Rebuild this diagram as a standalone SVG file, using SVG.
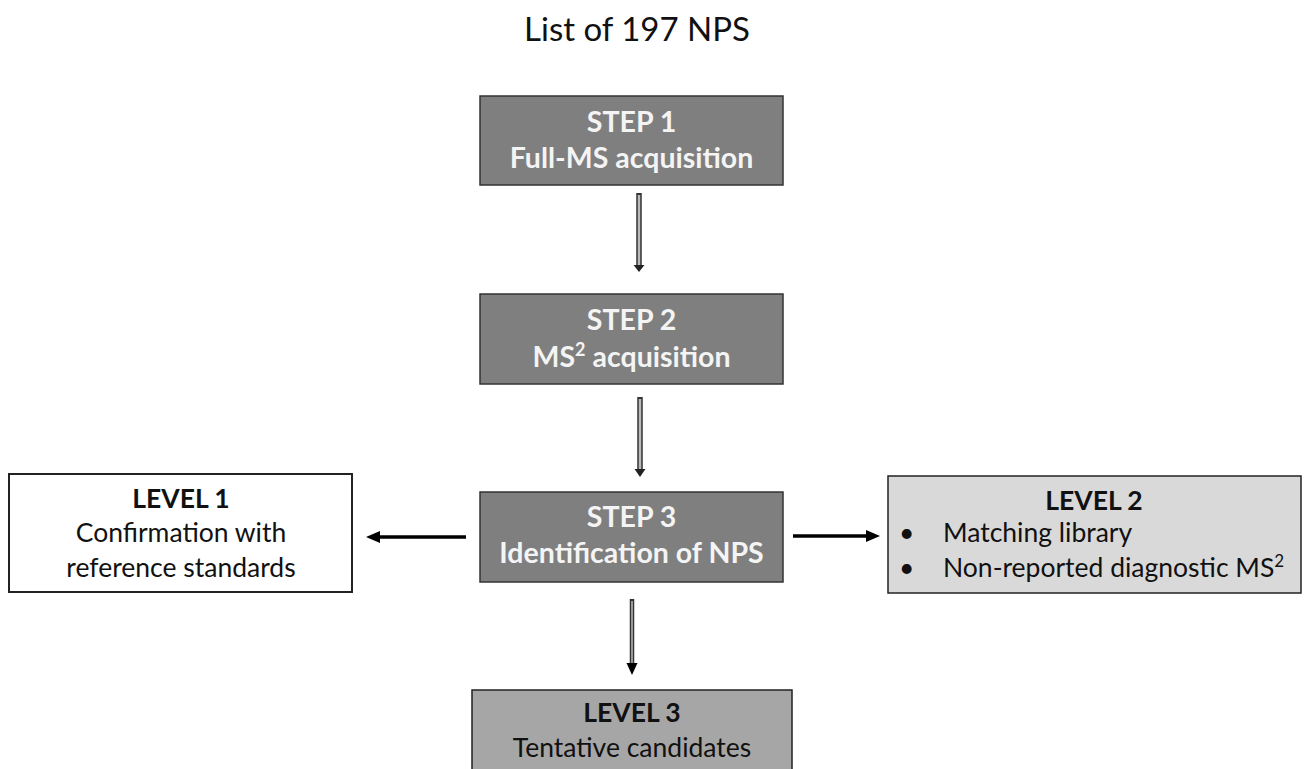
<svg xmlns="http://www.w3.org/2000/svg" width="1312" height="769" viewBox="0 0 1312 769">
<defs>
<style>
text { font-family: Lato, "Open Sans", "Liberation Sans", sans-serif; }
.title { font-size: 33px; fill: #111; text-anchor: middle; }
.step { fill: #7f7f7f; stroke: #333; stroke-width: 1.5; }
.steptxt { font-size: 28.5px; font-weight: bold; fill: #f4f4f4; text-anchor: middle; }
.lvl { stroke: #222; stroke-width: 2; }
.lvlb { font-size: 26.5px; font-weight: bold; fill: #111; text-anchor: middle; }
.lvlt { font-size: 26.5px; fill: #111; }
.mid { text-anchor: middle; }
.shaftO { stroke: #333; stroke-width: 5.5; fill: none; }
.shaftI { stroke: #bbb; stroke-width: 2.5; fill: none; }
.side { stroke: #000; stroke-width: 3.5; fill: none; }
</style>
</defs>

<text class="title" x="637" y="41">List of 197 NPS</text>

<g id="connectors">
  <g id="arrow-step1-step2">
    <line class="shaftO" x1="639" y1="193" x2="639" y2="267"/>
    <line class="shaftI" x1="639" y1="195" x2="639" y2="266"/>
    <polygon points="633.5,265 644.5,265 639,272" fill="#222"/>
  </g>
  <g id="arrow-step2-step3">
    <line class="shaftO" x1="640" y1="397" x2="640" y2="471"/>
    <line class="shaftI" x1="640" y1="399" x2="640" y2="470"/>
    <polygon points="634.5,469 645.5,469 640,477" fill="#222"/>
  </g>
  <g id="arrow-step3-level3">
    <line class="shaftO" x1="632" y1="599" x2="632" y2="665" style="stroke-width:4.5"/>
    <line class="shaftI" x1="632" y1="601" x2="632" y2="665" style="stroke-width:1.5"/>
    <polygon points="626.5,663 637.5,663 632,675" fill="#000"/>
  </g>
  <g id="arrow-step3-level1">
    <line class="side" x1="466" y1="537" x2="378" y2="537"/>
    <polygon points="366,537 380,531 380,543" fill="#000"/>
  </g>
  <g id="arrow-step3-level2">
    <line class="side" x1="793" y1="536" x2="868" y2="536"/>
    <polygon points="880,536 866,530 866,542" fill="#000"/>
  </g>
</g>

<g id="step1">
  <rect class="step" x="480" y="96" width="303" height="89"/>
  <text class="steptxt" x="631.5" y="132">STEP 1</text>
  <text class="steptxt" x="631.5" y="168">Full-MS acquisition</text>
</g>

<g id="step2">
  <rect class="step" x="480" y="294" width="303" height="90"/>
  <text class="steptxt" x="631.5" y="330">STEP 2</text>
  <text class="steptxt" x="631.5" y="367">MS<tspan dy="-11" font-size="18">2</tspan><tspan dy="11"> acquisition</tspan></text>
</g>

<g id="step3">
  <rect class="step" x="480" y="492" width="303" height="90"/>
  <text class="steptxt" x="631.5" y="527">STEP 3</text>
  <text class="steptxt" x="631.5" y="563">Identification of NPS</text>
</g>

<g id="level1">
  <rect class="lvl" x="9" y="474" width="343" height="118" fill="#ffffff"/>
  <text class="lvlb" x="181" y="508">LEVEL 1</text>
  <text class="lvlt mid" x="181" y="542">Confirmation with</text>
  <text class="lvlt mid" x="181" y="577">reference standards</text>
</g>

<g id="level2">
  <rect class="lvl" x="888" y="476" width="413" height="117" fill="#d9d9d9" style="stroke-width:1.5"/>
  <text class="lvlb" x="1094" y="510">LEVEL 2</text>
  <text class="lvlt" x="899" y="542">•</text>
  <text class="lvlt" x="943" y="542">Matching library</text>
  <text class="lvlt" x="899" y="577">•</text>
  <text class="lvlt" x="943" y="577">Non-reported diagnostic MS<tspan dy="-10" font-size="17">2</tspan></text>
</g>

<g id="level3">
  <rect class="lvl" x="472" y="690" width="320" height="100" fill="#a6a6a6" style="stroke-width:1.5"/>
  <text class="lvlb" x="632" y="722">LEVEL 3</text>
  <text class="lvlt mid" x="632" y="757">Tentative candidates</text>
</g>
</svg>
